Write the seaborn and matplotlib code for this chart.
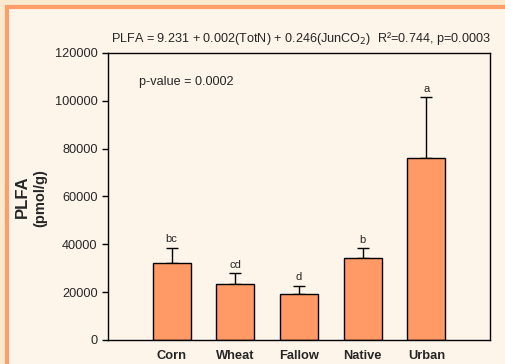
import numpy as np
import pandas as pd
import seaborn as sns
import matplotlib.pyplot as plt
from matplotlib.patches import Rectangle

sites = ["Corn", "Wheat", "Fallow", "Native", "Urban"]
plfa = [32400, 23500, 19400, 34300, 76100]
plfa_se = [6200, 4400, 3200, 4100, 25300]
letters = ["bc", "cd", "d", "b", "a"]

df = pd.DataFrame({"site": sites, "plfa": plfa, "se": plfa_se})

sns.set_style("ticks")
plt.rcParams["font.family"] = ["Liberation Sans", "DejaVu Sans"]

fig = plt.figure(figsize=(5.05, 3.64), dpi=100)
fig.patch.set_facecolor("#f9e9cf")
# cream panel with orange border
fig.patches.append(Rectangle((7 / 505, -0.1), 1.2, 1 - 7 / 364 + 0.1, transform=fig.transFigure,
                             facecolor="#fef5ea", edgecolor="#ff9e6b", linewidth=3, zorder=-10))

ax = fig.add_axes([108 / 505, 1 - 340 / 364, 382 / 505, 287 / 364])
ax.set_facecolor("#fef5ea")

sns.barplot(data=df, x="site", y="plfa", color="#ff9966", edgecolor="black", linewidth=1,
            width=0.6, saturation=1, ax=ax, zorder=2)
ax.errorbar(np.arange(len(sites)), plfa, yerr=[np.zeros(len(sites)), plfa_se], fmt="none",
            ecolor="black", elinewidth=1, capsize=4, capthick=1, zorder=1)

for i, (v, e, l) in enumerate(zip(plfa, plfa_se, letters)):
    ax.text(i, v + e + 1500, l, ha="center", va="bottom", fontsize=8)

ax.set_xlim(-1, 5)
ax.set_ylim(0, 120000)
ax.set_yticks(range(0, 120001, 20000))
ax.tick_params(axis="y", labelsize=9.2, length=4, width=1, direction="out", color="black")
ax.tick_params(axis="x", length=0, pad=7)
for lab in ax.get_xticklabels():
    lab.set_fontweight("bold")
    lab.set_fontsize(9.3)
for s in ax.spines.values():
    s.set_visible(True)
    s.set_linewidth(1)
    s.set_color("black")

ax.set_xlabel("")
ax.set_ylabel("")
# two-line y label, first line larger
fig.text(22 / 505, 1 - 197 / 364, "PLFA", rotation=90, ha="center", va="center",
         fontsize=12, fontweight="bold")
fig.text(40 / 505, 1 - 198 / 364, "(pmol/g)", rotation=90, ha="center", va="center",
         fontsize=10.5, fontweight="bold")
ax.text(0.08, 0.89, "p-value = 0.0002", transform=ax.transAxes, fontsize=9.1)
ax.set_title(r"PLFA = 9.231 + 0.002(TotN) + 0.246(JunCO$_2$)  R²=0.744, p=0.0003",
             fontsize=9.1, pad=8, x=0.505)

fig.savefig("out.png", dpi=100, facecolor=fig.get_facecolor())
